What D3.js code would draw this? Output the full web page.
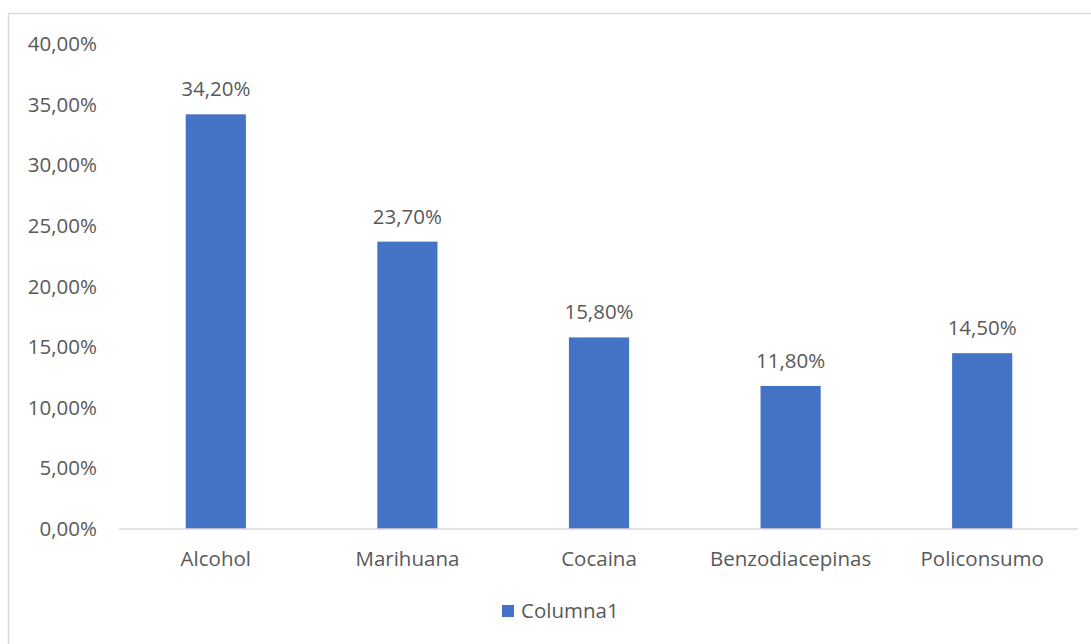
<!DOCTYPE html>
<html>
<head>
<meta charset="utf-8">
<script src="https://cdn.jsdelivr.net/npm/d3@7"></script>
<style>
  html, body { margin: 0; padding: 0; background: #fff; }
  svg { display: block; }
  text { font-family: "Open Sans", "Noto Sans", sans-serif; fill: #595959; }
</style>
</head>
<body>
<svg id="chart"></svg>
<script>
// Chart data
const categories = ['Alcohol', 'Marihuana', 'Cocaina', 'Benzodiacepinas', 'Policonsumo'];
const values = [0.342, 0.237, 0.158, 0.118, 0.145];
const yTicks = [0, 0.05, 0.10, 0.15, 0.20, 0.25, 0.30, 0.35, 0.40];
const seriesName = 'Columna1';

const width = 1091, height = 644;
const margin = { left: 120, right: 13, top: 44, bottom: 115 };
const BAR_COLOR = '#4472C4';
const FONT_SIZE = '20.5px';

const svg = d3.select('#chart').attr('width', width).attr('height', height);

// Chart area border (cut off at right and bottom like the reference)
svg.append('rect')
  .attr('x', 8.5).attr('y', 13.5)
  .attr('width', 1200).attr('height', 800)
  .attr('fill', 'none')
  .attr('stroke', '#d9d9d9')
  .attr('stroke-width', 1.5);

const fmt = v => (v * 100).toFixed(2).replace('.', ',') + '%';

const x = d3.scaleBand()
  .domain(categories)
  .range([margin.left, width - margin.right])
  .paddingInner(0.686)
  .paddingOuter(0.343);

const y = d3.scaleLinear()
  .domain([0, 0.40])
  .range([height - margin.bottom, margin.top]);

// Y axis labels (no axis line, no gridlines)
const yAxis = svg.append('g')
  .attr('transform', `translate(${margin.left}, 0)`)
  .call(d3.axisLeft(y).tickValues(yTicks).tickFormat(fmt).tickSize(0).tickPadding(23));
yAxis.select('.domain').remove();
yAxis.selectAll('text').attr('font-size', FONT_SIZE).attr('fill', '#595959')
  .attr('font-family', '"Open Sans", sans-serif');

// Bars
svg.append('g').selectAll('rect')
  .data(values)
  .enter().append('rect')
  .attr('x', (d, i) => x(categories[i]))
  .attr('y', d => y(d))
  .attr('width', x.bandwidth())
  .attr('height', d => y(0) - y(d))
  .attr('fill', BAR_COLOR);

// Value labels
svg.append('g').selectAll('text')
  .data(values)
  .enter().append('text')
  .attr('x', (d, i) => x(categories[i]) + x.bandwidth() / 2)
  .attr('y', d => y(d) - 18)
  .attr('text-anchor', 'middle')
  .attr('font-size', FONT_SIZE)
  .text(fmt);

// X axis baseline + category labels
const xAxis = svg.append('g')
  .attr('transform', `translate(0, ${y(0)})`)
  .call(d3.axisBottom(x).tickSize(0).tickPadding(22));
xAxis.select('.domain').attr('stroke', '#d9d9d9').attr('stroke-width', 1.5)
  .attr('d', `M${margin.left - 1},0H${width - margin.right}`);
xAxis.selectAll('text').attr('font-size', FONT_SIZE).attr('fill', '#595959')
  .attr('font-family', '"Open Sans", sans-serif');

// Legend
const legend = svg.append('g').attr('transform', 'translate(502, 605)');
legend.append('rect')
  .attr('width', 12).attr('height', 12)
  .attr('fill', BAR_COLOR);
legend.append('text')
  .attr('x', 19).attr('y', 6)
  .attr('dy', '0.35em')
  .attr('font-size', FONT_SIZE)
  .text(seriesName);
</script>
</body>
</html>
